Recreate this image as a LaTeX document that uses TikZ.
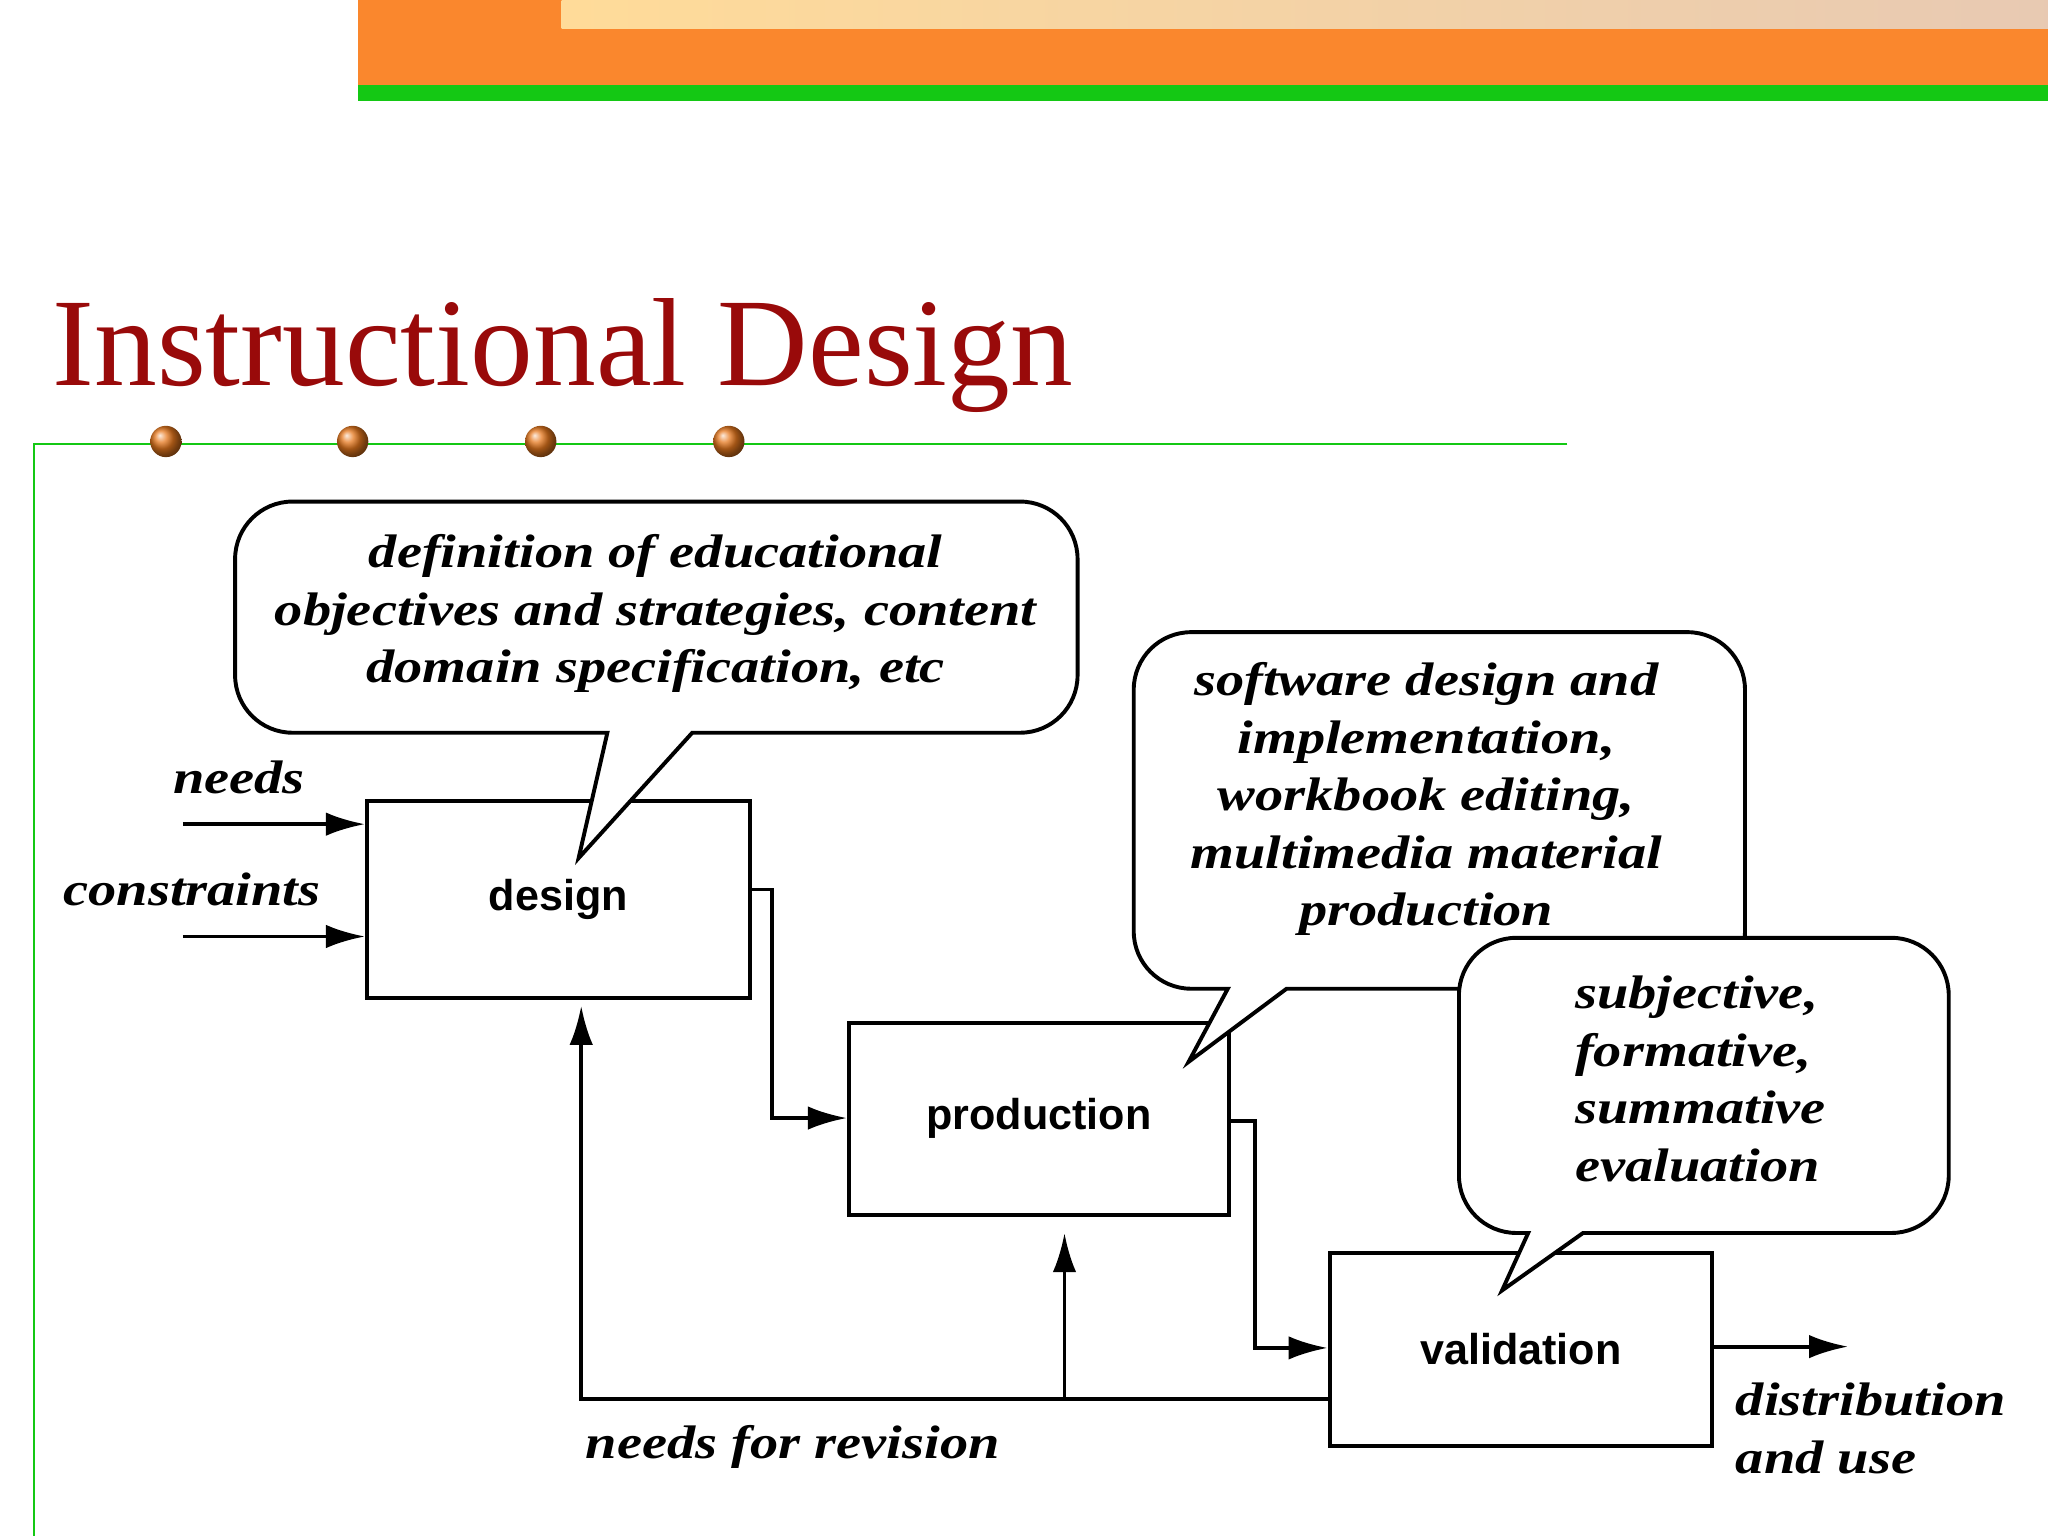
\documentclass[tikz,border=0pt]{standalone}
\usepackage{fontspec}
\setmainfont{Liberation Serif}
\setsansfont{Liberation Sans}
\newfontfamily\itx[FakeStretch=1.2]{Liberation Serif}
\usetikzlibrary{arrows.meta}
\definecolor{titlered}{RGB}{153,10,10}
\definecolor{bannerorange}{RGB}{250,135,45}
\definecolor{bannergreen}{RGB}{20,200,20}
\definecolor{dotorange}{RGB}{230,120,30}
\tikzset{
  pbox/.style={draw,line width=1.5pt,font=\sffamily\bfseries\fontsize{16.5}{20}\selectfont},
  ital/.style={font=\itx\bfseries\itshape\fontsize{18}{22}\selectfont},
  conn/.style={line width=1.5pt,-{Latex[length=15pt,width=9pt]}},
  bub/.style={draw,line width=1.5pt,fill=white,rounded corners=22pt}
}
\begin{document}
\begin{tikzpicture}[x=0.5pt,y=-0.5pt]
\useasboundingbox (0,0) rectangle (1568,1176);
\fill[white] (0,0) rectangle (1568,1176);
% banner
\fill[bannerorange] (274,0) rectangle (1568,65);
\fill[bannergreen] (274,65) rectangle (1568,77);
\shade[left color=yellow!30!orange!40,right color=green!30!red!30] (430,0) rectangle (1568,22);
% title
\node[anchor=base west,text=titlered,font=\fontsize{48}{55}\selectfont,inner sep=0] (title) at (40,295) {Instructional Design};
\draw[bannergreen,line width=0.8pt] (1200,340) -- (26,340) -- (26,1176);
\foreach \x in {127,270,414,558} \shade[ball color=dotorange] (\x,338) circle (12);
% boxes
\node[pbox,minimum width=146.5pt,minimum height=75.5pt] (design) at (427.5,688.5) {design};
\node[pbox,minimum width=145.5pt,minimum height=73.5pt] (prod) at (795.5,856.5) {production};
\node[pbox,minimum width=146.5pt,minimum height=74pt] (val) at (1164.5,1033) {validation};
% bubble 2 (behind)
\draw[bub] (985,757) -- (1336,757) -- (1336,484) -- (868,484) -- (868,757) [sharp corners]-- (940,757) -- (910,813) -- cycle;
\node[ital,align=center] (t2) at (1092,612) {software design and\\implementation,\\workbook editing,\\multimedia material\\production};
% bubble 3
\draw[bub] (1212,944) -- (1492,944) -- (1492,718) -- (1117,718) -- (1117,944) [sharp corners]-- (1170,944) -- (1150,988) -- cycle;
\node[ital,align=left] (t3) at (1302,826) {subjective,\\formative,\\summative\\evaluation};
% bubble 1
\draw[bub] (530,561) -- (825,561) -- (825,384) -- (180,384) -- (180,561) [sharp corners]-- (465,561) -- (443,657) -- cycle;
\node[ital,align=center] (t1) at (502,470) {definition of educational\\objectives and strategies, content\\domain specification, etc};
% inputs
\coordinate (n0) at (140,631); \coordinate (c0) at (140,717);
\draw[conn] (n0) -- (design.west |- n0);
\draw[conn] (c0) -- (design.west |- c0);
\node[ital] (needs) at (183,595) {needs};
\node[ital] (cons) at (147,681) {constraints};
% flow
\draw[conn] (design.east |- 0,681) -| (591,856) -- (prod.west |- 0,856);
\draw[conn] (prod.east |- 0,858) -| (961,1032) -- (val.west |- 0,1032);
\coordinate (out) at (1415,1031);
\draw[conn] (val.east |- out) -- (out);
\node[ital,align=left,anchor=north west] (dist) at (1322,1052) {distribution\\and use};
% feedback
\coordinate (fb) at (445,1071);
\draw[conn] (val.west |- fb) -- (fb) -- (445,770);
\draw[conn] (815,1071) -- (815,944);
\node[ital] (nfr) at (607,1108) {needs for revision};
\end{tikzpicture}
\end{document}
